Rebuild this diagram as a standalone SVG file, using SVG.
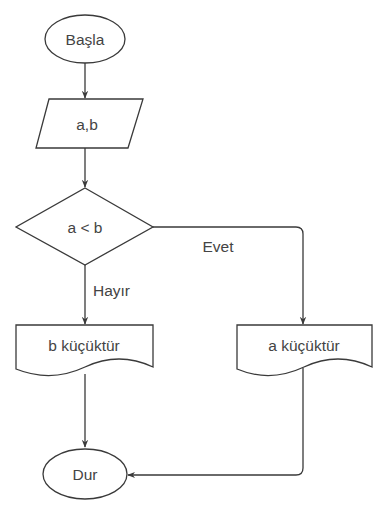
<svg xmlns="http://www.w3.org/2000/svg" width="375" height="514" viewBox="0 0 375 514">
<defs>
<style>
.s{fill:#fff;stroke:#3a3a3a;stroke-width:1.3}
.c{fill:none;stroke:#3a3a3a;stroke-width:1.3}
text{font-family:"Liberation Sans",Arial,sans-serif;font-size:15.5px;fill:#444}
.m{text-anchor:middle}
</style>
<marker id="ah" viewBox="0 0 10 10" refX="9" refY="5" markerWidth="8" markerHeight="8" markerUnits="userSpaceOnUse" orient="auto">
<path d="M0,1 L10,5 L0,9 L3,5 Z" fill="#3a3a3a"/>
</marker>
</defs>
<rect width="375" height="514" fill="#fff"/>
<g id="connectors">
<path class="c" d="M85,63 V98" marker-end="url(#ah)"/>
<path class="c" d="M85,148 V187" marker-end="url(#ah)"/>
<path class="c" d="M153,227 H296 Q303,227 303,234 V324" marker-end="url(#ah)"/>
<path class="c" d="M85,265 V324" marker-end="url(#ah)"/>
<path class="c" d="M85,374 V447" marker-end="url(#ah)"/>
<path class="c" d="M303,368 V468 Q303,475 296,475 H128" marker-end="url(#ah)"/>
<text x="218" y="252" class="m">Evet</text>
<text x="93" y="296">Hayır</text>
</g>
<g id="basla">
<ellipse class="s" cx="85" cy="39" rx="40" ry="24"/>
<text x="85" y="45" class="m">Başla</text>
</g>
<g id="input">
<path class="s" d="M49,99 H143 L128,148 H36 Z"/>
<text x="87" y="130" class="m">a,b</text>
</g>
<g id="decision">
<path class="s" d="M85,188 L153,227 L85,265 L16,227 Z"/>
<text x="85" y="233" class="m">a &lt; b</text>
</g>
<g id="bkucuk">
<path class="s" d="M16,325 H153 V367 Q119,351 85,367 Q51,383 16,369 Z"/>
<text x="84" y="351" class="m">b küçüktür</text>
</g>
<g id="akucuk">
<path class="s" d="M237,325 H372 V367 Q338,351 304,367 Q270,383 237,369 Z"/>
<text x="304" y="351" class="m">a küçüktür</text>
</g>
<g id="dur">
<ellipse class="s" cx="85" cy="474" rx="42" ry="25"/>
<text x="85" y="480" class="m">Dur</text>
</g>
</svg>
